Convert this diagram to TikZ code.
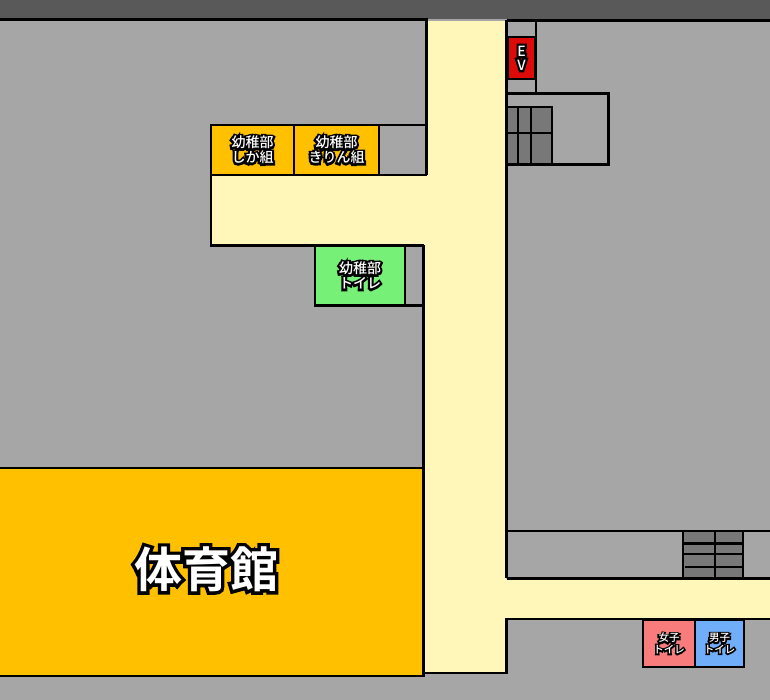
\documentclass[tikz,border=0pt]{standalone}
\usepackage{fontspec}
\setmainfont{Noto Sans CJK JP Medium}
\newfontfamily\edgesmall[FakeBold=30]{Noto Sans CJK JP Medium}
\newfontfamily\edgelarge[FakeBold=14]{Noto Sans CJK JP Bold}
\newfontfamily\facelarge{Noto Sans CJK JP Bold}
\definecolor{wallgray}{HTML}{A6A6A6}
\definecolor{roofgray}{HTML}{595959}
\definecolor{hallyellow}{HTML}{FFF6B9}
\definecolor{roomorange}{HTML}{FFC000}
\definecolor{toiletgreen}{HTML}{77F077}
\definecolor{stairgray}{HTML}{787878}
\definecolor{evred}{HTML}{DD0A0A}
\definecolor{toiletpink}{HTML}{F87C7C}
\definecolor{toiletblue}{HTML}{70AEFA}
\newcommand{\roomtext}[1]{\leavevmode\raisebox{-1pt}{\rlap{\edgesmall\textcolor{black}{#1}}\textcolor{white}{#1}}}
\newcommand{\gymtext}[1]{\leavevmode\rlap{\edgelarge\textcolor{black}{#1}}{\facelarge\textcolor{white}{#1}}}
\tikzset{
  wall/.style={draw=black,line width=2.3pt},
  room/.style={draw=black,line width=2.3pt,align=center,inner sep=0pt,font=\fontsize{14}{15}\selectfont},
}
\begin{document}
\begin{tikzpicture}[x=1pt,y=-1pt]
  \useasboundingbox (0,0) rectangle (770,700);
  \fill[wallgray] (0,0) rectangle (770,700);
  \fill[roofgray] (0,0) rectangle (770,19);
  % halls
  \fill[hallyellow] (427,21) rectangle (506,245);
  \fill[hallyellow] (424,245) rectangle (506,673);
  \fill[hallyellow] (211,175) rectangle (427,245);
  \fill[hallyellow] (506,579) rectangle (770,619);
  % rooms
  \node[room,fill=roomorange,minimum width=83pt,minimum height=50pt] (jika) at (252.5,150) {\roomtext{幼稚部}\\\roomtext{しか組}};
  \node[room,fill=roomorange,minimum width=85pt,minimum height=50pt] (kirin) at (336.5,150) {\roomtext{幼稚部}\\\roomtext{きりん組}};
  \node[room,fill=toiletgreen,minimum width=90pt,minimum height=60pt] (toilet) at (360,275.5) {\roomtext{幼稚部}\\\roomtext{トイレ}};
  \node[room,fill=roomorange,minimum width=426pt,minimum height=208pt] (gym) at (211,572) {};
  \node[font=\fontsize{48}{50}\selectfont,inner sep=0pt] (gymlabel) at (206,569) {\gymtext{体育館}};
  \node[room,fill=evred,minimum width=28pt,minimum height=42pt,font=\fontsize{14}{14}\selectfont] (ev) at (521.5,58) {\roomtext{E}\\\roomtext{V}};
  \node[room,fill=toiletpink,minimum width=52pt,minimum height=47pt,font=\fontsize{10.5}{11.5}\selectfont] (women) at (669,643.5) {\roomtext{女子}\\\roomtext{トイレ}};
  \node[room,fill=toiletblue,minimum width=49pt,minimum height=47pt,font=\fontsize{10.5}{11.5}\selectfont] (men) at (719.5,643.5) {\roomtext{男子}\\\roomtext{トイレ}};
  % stairs
  \fill[stairgray] (506,107) rectangle (552,164);
  \fill[stairgray] (683,531) rectangle (743,578);
  \draw[wall] (506,107) -- (552,107) -- (552,164);
  \draw[wall] (518,107) -- (518,164);
  \draw[wall] (531,107) -- (531,164);
  \draw[wall] (506,133) -- (552,133);
  \draw[wall] (683,531) -- (683,578);
  \draw[wall] (743,531) -- (743,578);
  \draw[wall] (715,531) -- (715,577);
  \draw[wall] (683,543.5) -- (743,543.5);
  \draw[wall] (683,554) -- (743,554);
  \draw[wall] (685,567) -- (743,567);
  % walls
  \draw[wall] (0,19.5) -- (426.5,19.5) -- (426.5,175);
  \draw[wall] (507,20.5) -- (770,20.5);
  \draw[wall] (211,125) -- (426.5,125);
  \draw[wall] (211,125) -- (211,245.5) -- (424,245.5);
  \draw[wall] (211,175) -- (426.5,175);
  \draw[wall] (423.5,245.5) -- (423.5,676);
  \draw[wall] (405,305.5) -- (423.5,305.5);
  \draw[wall] (506.5,20) -- (506.5,578);
  \draw[wall] (536,20) -- (536,92);
  \draw[wall] (505,93.5) -- (608.5,93.5) -- (608.5,164.5) -- (505,164.5);
  \draw[wall] (423.5,673) -- (506.5,673) -- (506.5,619) -- (770,619);
  \draw[wall] (506.5,531) -- (770,531);
  \draw[wall] (506.5,578.5) -- (770,578.5);
\end{tikzpicture}
\end{document}
